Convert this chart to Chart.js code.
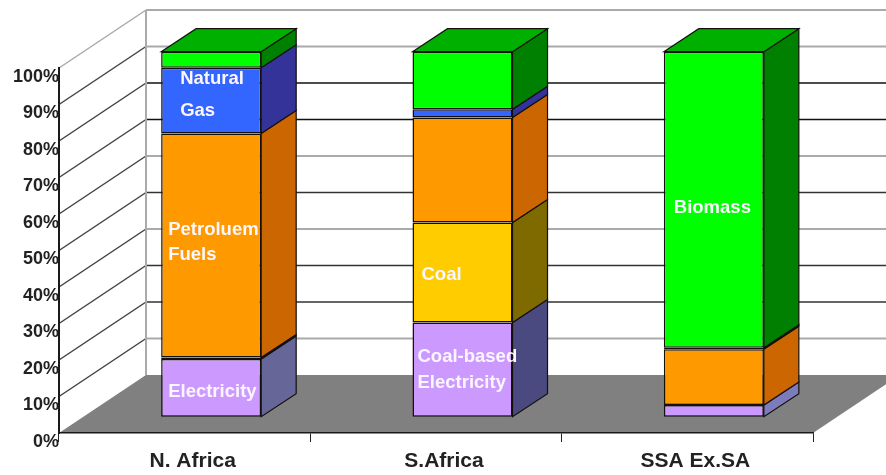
<!DOCTYPE html>
<html>
<head>
<meta charset="utf-8">
<title>Energy mix</title>
<script src="https://cdn.jsdelivr.net/npm/chart.js@4"></script>
<style>
  html, body { margin: 0; padding: 0; background: #fff; }
  #wrap { width: 886px; height: 475px; }
</style>
</head>
<body>
<div id="wrap"><canvas id="energyChart" width="886" height="475"></canvas></div>
<script>
// Datos (percent of final energy by region)
const categories = ['N. Africa', 'S.Africa', 'SSA Ex.SA'];
const electricity = [15.8, 25.8, 3.2];
const coal = [0.4, 27.4, 0];
const petroleum = [61.4, 28.8, 15.3];
const gas = [18, 2.2, 0.4];
const biomass = [4.4, 15.8, 81.1];

// Text written on the bars: text, category, height in percent, inset from bar edge
const barTexts = [
    ['Natural', 0, 92.6, 19],
    ['Gas', 0, 83.9, 19],
    ['Petroluem', 0, 51.1, 7],
    ['Fuels', 0, 44.3, 7],
    ['Electricity', 0, 6.8, 7],
    ['Coal', 1, 38.8, 9],
    ['Coal-based', 1, 16.4, 5],
    ['Electricity', 1, 9.3, 5],
    ['Biomass', 2, 57.1, 10]
];

// 3D box geometry
const WALL_DX = 87, WALL_DY = 58;    // front plane to back wall
const BAR_DX = 26.5, BAR_DY = 16.3;  // front plane to bar front
const SIDE_DX = 35, SIDE_DY = 23;    // bar depth

// Back wall line colours, 0% to 100%
const wallShades = ['#808080', '#aaaaaa', '#333333', '#333333', '#aaaaaa', '#333333', '#aaaaaa', '#111111', '#111111', '#aaaaaa', '#aaaaaa'];

function makeSet(label, data, front, side) {
    return {
        label: label,
        data: data,
        backgroundColor: front,
        borderColor: '#14100c',
        borderWidth: 1.5,
        borderSkipped: false,
        clip: false,
        sideColor: side
    };
}

// Floor and walls, behind the axes
const wallsPlugin = {
    id: 'walls',
    beforeDraw(chart) {
        const ctx = chart.ctx, y = chart.scales.y, a = chart.chartArea;
        const y0 = y.getPixelForValue(0);
        ctx.save();
        ctx.fillStyle = '#808080';
        ctx.beginPath();
        ctx.moveTo(a.left, y0);
        ctx.lineTo(a.left + WALL_DX, y0 - WALL_DY);
        ctx.lineTo(a.right + WALL_DX, y0 - WALL_DY);
        ctx.lineTo(a.right, y0);
        ctx.closePath();
        ctx.fill();

        y.ticks.forEach((t, i) => {
            if (t.value === 0) return;
            const py = y.getPixelForValue(t.value);
            const shade = wallShades[i];
            ctx.lineWidth = 1.5;
            ctx.strokeStyle = t.value === 100 ? '#aaaaaa' : '#444444';
            ctx.beginPath();
            ctx.moveTo(a.left, py);
            ctx.lineTo(a.left + WALL_DX, py - WALL_DY);
            ctx.stroke();
            ctx.lineWidth = shade === '#aaaaaa' ? 2 : 1.5;
            ctx.strokeStyle = shade;
            ctx.beginPath();
            ctx.moveTo(a.left + WALL_DX, py - WALL_DY);
            ctx.lineTo(chart.width, py - WALL_DY);
            ctx.stroke();
        });

        ctx.strokeStyle = '#aaaaaa';
        ctx.lineWidth = 2;
        ctx.beginPath();
        ctx.moveTo(a.left + WALL_DX, y.getPixelForValue(100) - WALL_DY);
        ctx.lineTo(a.left + WALL_DX, y0 - WALL_DY);
        ctx.stroke();
        ctx.restore();
    }
};

// Side and top faces, then the bars shifted back off the front plane
const boxPlugin = {
    id: 'box',
    beforeDatasetsDraw(chart) {
        const ctx = chart.ctx;
        ctx.save();
        ctx.translate(BAR_DX, -BAR_DY);
        ctx.lineWidth = 1.2;
        ctx.strokeStyle = '#14100c';
        chart.data.datasets.forEach((ds, d) => {
            chart.getDatasetMeta(d).data.forEach((bar, i) => {
                if (!ds.data[i]) return;
                const r = bar.x + bar.width / 2;
                ctx.fillStyle = Array.isArray(ds.sideColor) ? ds.sideColor[i] : ds.sideColor;
                ctx.beginPath();
                ctx.moveTo(r, bar.y);
                ctx.lineTo(r + SIDE_DX, bar.y - SIDE_DY);
                ctx.lineTo(r + SIDE_DX, bar.base - SIDE_DY);
                ctx.lineTo(r, bar.base);
                ctx.closePath();
                ctx.fill();
                ctx.stroke();
            });
        });
        // top of the last segment
        const last = chart.data.datasets.length - 1;
        chart.getDatasetMeta(last).data.forEach(bar => {
            const l = bar.x - bar.width / 2, r = bar.x + bar.width / 2;
            ctx.fillStyle = '#00b000';
            ctx.beginPath();
            ctx.moveTo(l, bar.y);
            ctx.lineTo(l + SIDE_DX, bar.y - SIDE_DY);
            ctx.lineTo(r + SIDE_DX, bar.y - SIDE_DY);
            ctx.lineTo(r, bar.y);
            ctx.closePath();
            ctx.fill();
            ctx.stroke();
        });
    },
    afterDatasetsDraw(chart) {
        const ctx = chart.ctx, y = chart.scales.y;
        ctx.fillStyle = '#fbf6ff';
        ctx.font = 'bold 18.5px "Liberation Sans", Arial, sans-serif';
        ctx.textAlign = 'left';
        ctx.textBaseline = 'middle';
        barTexts.forEach(([text, cat, value, inset]) => {
            const bar = chart.getDatasetMeta(0).data[cat];
            ctx.fillText(text, bar.x - bar.width / 2 + inset, y.getPixelForValue(value));
        });
        ctx.restore();
    }
};

new Chart(document.getElementById('energyChart'), {
    type: 'bar',
    data: {
        labels: categories,
        datasets: [
            makeSet('Electricity', electricity, '#cc99ff', ['#666699', '#4a4a80', '#7c7cbd']),
            makeSet('Coal', coal, '#ffcc00', '#7f6a00'),
            makeSet('Petroleum Fuels', petroleum, '#ff9900', '#cc6600'),
            makeSet('Natural Gas', gas, '#3366ff', '#333399'),
            makeSet('Biomass', biomass, '#00ff00', '#008000')
        ]
    },
    options: {
        responsive: false,
        animation: false,
        layout: { padding: { top: 68, right: 73 } },
        datasets: { bar: { categoryPercentage: 1, barPercentage: 0.398 } },
        plugins: { legend: { display: false }, title: { display: false }, tooltip: { enabled: false } },
        scales: {
            x: {
                stacked: true,
                afterFit(s) { s.height = 42; },
                grid: { drawOnChartArea: false, color: '#222', tickLength: 9, lineWidth: 1 },
                border: { color: '#1a1a1a', width: 1.5 },
                ticks: {
                    color: '#222',
                    padding: 7,
                    labelOffset: 8,
                    maxRotation: 0,
                    font: { family: '"Liberation Sans", Arial, sans-serif', size: 21, weight: 'bold' }
                }
            },
            y: {
                stacked: true,
                min: 0,
                max: 100,
                afterFit(s) { s.width = 59; },
                grid: { display: false, drawTicks: false },
                border: { color: '#1a1a1a', width: 2 },
                ticks: {
                    stepSize: 10,
                    color: '#222',
                    padding: 0,
                    labelOffset: 9,
                    callback: v => v + '%',
                    font: { family: '"Liberation Sans", Arial, sans-serif', size: 18, weight: 'bold' }
                }
            }
        }
    },
    plugins: [wallsPlugin, boxPlugin]
});
</script>
</body>
</html>
